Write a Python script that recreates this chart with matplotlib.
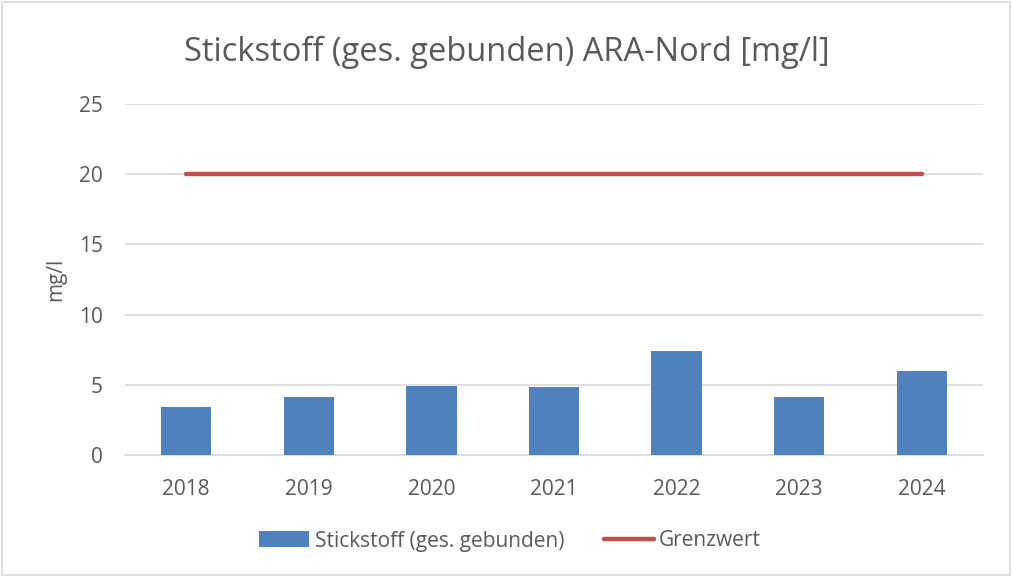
import matplotlib.pyplot as plt
from matplotlib.patches import Rectangle
import numpy as np

# data
years = ['2018', '2019', '2020', '2021', '2022', '2023', '2024']
stickstoff = [3.4, 4.15, 4.9, 4.85, 7.4, 4.15, 6.0]
grenzwert = [20, 20, 20, 20, 20, 20, 20]

text_col = '#595959'
plt.rcParams['font.family'] = ['Open Sans', 'DejaVu Sans']

fig = plt.figure(figsize=(10.13, 5.77), dpi=100)
ax = fig.add_axes([125 / 1013, 1 - 455 / 577, (983 - 125) / 1013, (455 - 104) / 577])

x = np.arange(len(years))
bars = ax.bar(x, stickstoff, width=0.41, color='#4f81bd', zorder=3)
line, = ax.plot(x, grenzwert, color='#c0504d', lw=3.2, solid_capstyle='round', zorder=4)

ax.set_xlim(-0.5, len(years) - 0.5)
ax.set_ylim(0, 25)
ax.set_yticks([0, 5, 10, 15, 20, 25])
ax.set_xticks(x)
ax.set_xticklabels(years)
ax.grid(axis='y', color='#d9d9d9', lw=1.2, zorder=0)
for s in ['top', 'right', 'left']:
    ax.spines[s].set_visible(False)
ax.spines['bottom'].set_color('#d9d9d9')
ax.spines['bottom'].set_linewidth(1.2)
ax.tick_params(length=0, labelsize=15, labelcolor=text_col, pad=17)
ax.tick_params(axis='y', pad=16)
ax.set_ylabel('mg/l', fontsize=15, color=text_col, labelpad=9)

fig.text(0.5, 1 - 52 / 577, 'Stickstoff (ges. gebunden) ARA-Nord [mg/l]',
         ha='center', va='center', fontsize=23.5, color=text_col)

fig.legend([bars, line], ['Stickstoff (ges. gebunden)', 'Grenzwert'],
           loc='center', bbox_to_anchor=(510 / 1013, 1 - 541 / 577), ncol=2,
           frameon=False, fontsize=15, labelcolor=text_col,
           handlelength=2.4, handleheight=0.8, handletextpad=0.25, columnspacing=1.9)

# light frame round the chart
fig.patches.append(Rectangle((0.002, 0.003), 0.995, 0.994, transform=fig.transFigure,
                             fill=False, edgecolor='#d9d9d9', lw=1.2))

plt.savefig('out.png', dpi=100)
